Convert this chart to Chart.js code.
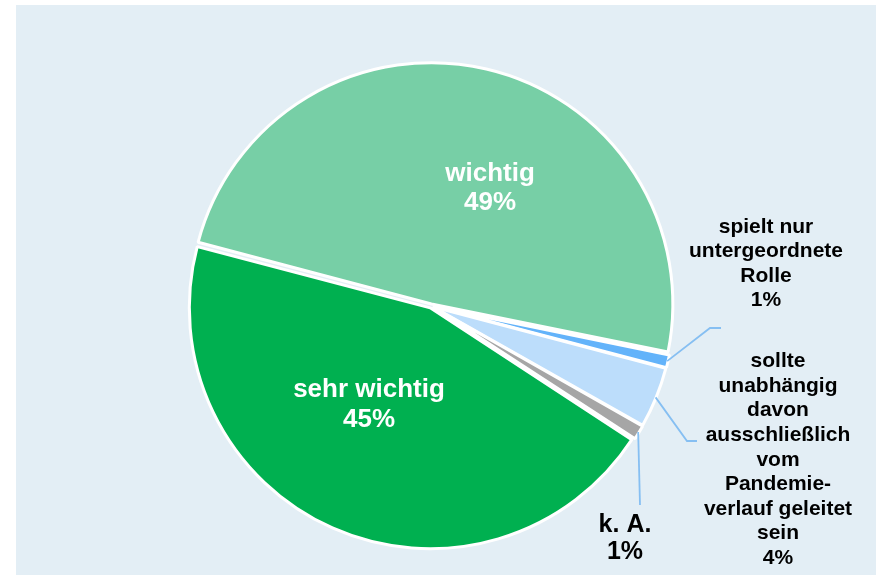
<!DOCTYPE html>
<html>
<head>
<meta charset="utf-8">
<script src="https://cdn.jsdelivr.net/npm/chart.js@4.4.1/dist/chart.umd.min.js"></script>
<style>
  html, body { margin: 0; padding: 0; background: #ffffff; }
  canvas { display: block; }
</style>
</head>
<body>
<canvas id="c" width="879" height="575" style="width:879px;height:575px"></canvas>
<script>
// ---- data ----
const categories = [
  ["wichtig"],
  ["spielt nur", "untergeordnete", "Rolle"],
  ["sollte", "unabhängig", "davon", "ausschließlich", "vom", "Pandemie-", "verlauf geleitet", "sein"],
  ["k. A."],
  ["sehr wichtig"]
];
const values = [49.1, 0.9, 4.1, 1.0, 44.9];
const sliceColors = ["#77CFA6", "#63B3FA", "#BCDDFB", "#A6A6A6", "#00B050"];

// ---- label layout (positions / styles only) ----
const labelLayout = [
  { x: 490, y: 174, lh: 29,   size: 26, color: "#FFFFFF", leader: null },
  { x: 766, y: 227, lh: 24.5, size: 21, color: "#000000", leader: [{x: 710, y: 328}, {x: 721, y: 328}] },
  { x: 778, y: 361.5, lh: 24.6, size: 21, color: "#000000", leader: [{x: 687, y: 441}, {x: 697, y: 441}] },
  { x: 625, y: 525, lh: 27,   size: 25, color: "#000000", leader: [{x: 640, y: 505}] },
  { x: 369, y: 390, lh: 30,   size: 26, color: "#FFFFFF", leader: null }
];

const bgPlugin = {
  id: 'bg',
  beforeDraw(chart) {
    const ctx = chart.ctx;
    ctx.save();
    ctx.fillStyle = '#E3EEF5';
    ctx.fillRect(16, 5, 860, 570);
    ctx.restore();
  }
};

const labelPlugin = {
  id: 'labels',
  afterDatasetsDraw(chart) {
    const ctx = chart.ctx;
    const meta = chart.getDatasetMeta(0);
    ctx.save();
    meta.data.forEach((arc, i) => {
      const L = labelLayout[i];
      if (L.leader) {
        const mid = (arc.startAngle + arc.endAngle) / 2;
        const r = arc.outerRadius + 3;
        const sx = arc.x + Math.cos(mid) * r;
        const sy = arc.y + Math.sin(mid) * r;
        ctx.strokeStyle = '#86BFF2';
        ctx.lineWidth = 1.8;
        ctx.beginPath();
        ctx.moveTo(sx, sy);
        L.leader.forEach(p => ctx.lineTo(p.x, p.y));
        ctx.stroke();
      }
      const lines = categories[i].concat([Math.round(values[i]) + '%']);
      ctx.fillStyle = L.color;
      ctx.font = 'bold ' + L.size + 'px "Liberation Sans", Arial, sans-serif';
      ctx.textAlign = 'center';
      ctx.textBaseline = 'middle';
      lines.forEach((t, k) => ctx.fillText(t, L.x, L.y + k * L.lh));
    });
    ctx.restore();
  }
};

new Chart(document.getElementById('c'), {
  type: 'pie',
  data: {
    labels: categories,
    datasets: [{
      data: values,
      backgroundColor: sliceColors,
      borderColor: '#FFFFFF',
      borderWidth: 3,
      offset: 8,
      radius: 239.5
    }]
  },
  options: {
    responsive: false,
    animation: false,
    rotation: -75.24,
    layout: { padding: { left: 0, right: 17, top: 37, bottom: 0 } },
    plugins: {
      legend: { display: false },
      tooltip: { enabled: false },
      title: { display: false }
    }
  },
  plugins: [bgPlugin, labelPlugin]
});
</script>
</body>
</html>
